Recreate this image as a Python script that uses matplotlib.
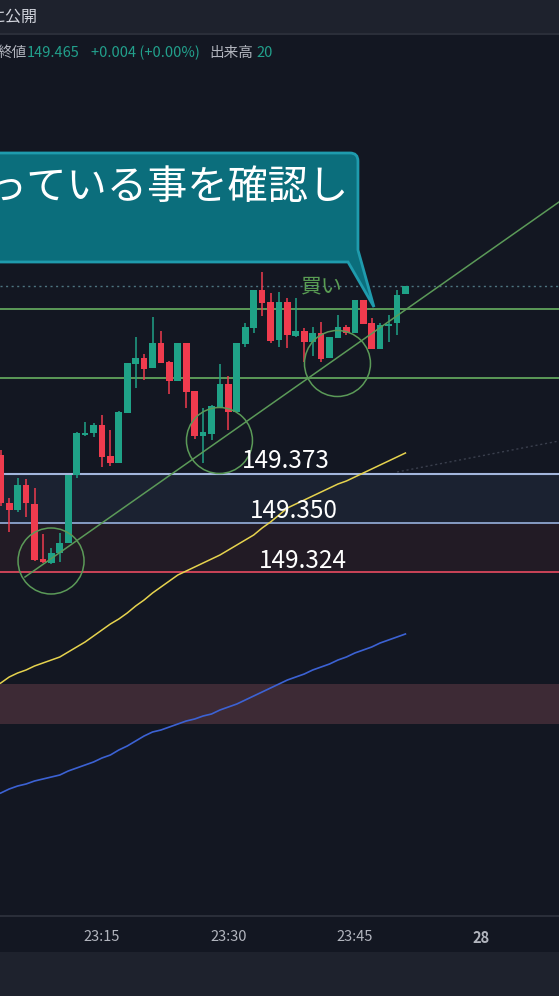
import matplotlib
matplotlib.use("Agg")
import matplotlib.pyplot as plt
from matplotlib.patches import Ellipse, PathPatch, Rectangle
from matplotlib.path import Path
import numpy as np

plt.rcParams['font.family'] = ['Noto Sans CJK JP', 'DejaVu Sans']

# ---------------- data ----------------
minutes = list(range(3, 52))  # minutes after 23:00
opens  = [149.3825,149.3585,149.355,149.3675,149.358,149.3305,149.3285,149.3335,149.3385,149.3725,
          149.3925,149.3935,149.3975,149.382,149.3785,149.4035,149.428,149.431,149.426,149.4385,
          149.429,149.4195,149.4385,149.4145,149.392,149.393,149.4065,149.418,149.404,149.438,
          149.446,149.465,149.459,149.440,149.459,149.442,149.4445,149.439,149.4435,149.431,
          149.441,149.4465,149.4435,149.460,149.4485,149.4355,149.447,149.4485,149.463]
highs  = [149.385,149.361,149.371,149.3705,149.366,149.343,149.336,149.3435,149.3725,149.394,
          149.399,149.3985,149.4025,149.395,149.4045,149.4285,149.4415,149.433,149.4515,149.4445,
          149.4295,149.4385,149.4385,149.4145,149.406,149.4075,149.428,149.422,149.4385,149.4485,
          149.465,149.474,149.4635,149.464,149.461,149.461,149.446,149.4465,149.449,149.4415,
          149.4525,149.4475,149.460,149.460,149.451,149.4485,149.4525,149.465,149.467]
lows   = [149.357,149.344,149.354,149.3515,149.3295,149.3285,149.328,149.329,149.3385,149.371,
          149.392,149.3915,149.3765,149.377,149.3785,149.4035,149.416,149.420,149.426,149.4285,
          149.413,149.4195,149.406,149.3905,149.3785,149.390,149.4065,149.395,149.404,149.4365,
          149.4435,149.452,149.4385,149.4365,149.436,149.4415,149.429,149.432,149.429,149.431,
          149.441,149.4425,149.4435,149.448,149.4355,149.4355,149.439,149.4425,149.463]
closes = [149.3585,149.355,149.3675,149.3585,149.330,149.329,149.3335,149.3385,149.3725,149.3935,
          149.3935,149.3975,149.3815,149.3785,149.404,149.4285,149.431,149.4255,149.4385,149.4285,
          149.4195,149.4385,149.414,149.392,149.394,149.407,149.418,149.404,149.4385,149.4465,
          149.465,149.4585,149.4395,149.459,149.4425,149.4445,149.439,149.4435,149.4305,149.4415,
          149.4465,149.4435,149.460,149.448,149.4355,149.4475,149.448,149.4625,149.467]

ma_minutes = list(range(2, 52))
ma_fast = [149.2665,149.2685,149.2715,149.2735,149.275,149.277,149.2785,149.280,149.2815,149.284,
           149.2865,149.289,149.292,149.295,149.298,149.3005,149.3035,149.307,149.310,149.3135,
           149.3165,149.3195,149.3225,149.3245,149.3265,149.3285,149.3305,149.3325,149.335,149.3375,
           149.340,149.3425,149.346,149.349,149.3525,149.356,149.358,149.360,149.362,149.364,
           149.366,149.368,149.3695,149.3715,149.3735,149.3755,149.3775,149.3795,149.3815,149.3835]
ma_slow = [149.212,149.2135,149.2155,149.217,149.218,149.2195,149.2205,149.2215,149.2225,149.2245,
           149.226,149.2275,149.229,149.231,149.2325,149.235,149.237,149.2395,149.242,149.244,
           149.245,149.2465,149.248,149.2495,149.2505,149.252,149.253,149.255,149.2565,149.258,
           149.260,149.262,149.264,149.266,149.268,149.270,149.2715,149.273,149.275,149.2765,
           149.278,149.280,149.2815,149.2835,149.285,149.2865,149.2885,149.290,149.2915,149.293]

tick_minutes = [15, 30, 45, 60]
tick_labels = ["23:15", "23:30", "23:45", "28"]

level_lines = [149.4555, 149.421]           # green horizontal lines
last_price = 149.467
zone_blue = (149.3485, 149.373)
zone_red = (149.324, 149.3485)
zone_low = (149.248, 149.268)
zone_labels = ["149.373", "149.350", "149.324"]
trend = ([5.87, 69.22], [149.3215, 149.509])
faint = ([50.0, 69.22], [149.374, 149.3895])
circle_centers = [(8.96, 149.3295), (28.94, 149.38975), (42.94, 149.42825)]

# ---------------- figure ----------------
W, H = 559, 996
fig = plt.figure(figsize=(W/100, H/100), dpi=100)
fig.patch.set_facecolor('#131722')

def fx(x): return x / W
def fy(y): return 1 - y / H

# header bar
fig.patches.append(Rectangle((0, fy(33)), 1, 33/H, transform=fig.transFigure,
                             facecolor='#1e222d', edgecolor='none', zorder=0))
fig.patches.append(Rectangle((0, fy(35)), 1, 2/H, transform=fig.transFigure,
                             facecolor='#2a2e39', edgecolor='none', zorder=0))
# bottom bar
fig.patches.append(Rectangle((0, 0), 1, 44/H, transform=fig.transFigure,
                             facecolor='#1e222d', edgecolor='none', zorder=0))

ax = fig.add_axes([0, (H-916)/H, 1, (916-35)/H])
ax.set_facecolor('#131722')
ax.set_xlim(2.906, 69.22)
ax.set_ylim(149.152, 149.5925)

# zones
ax.axhspan(*zone_blue, color='#1b2231', zorder=0.5, lw=0)
ax.axhspan(*zone_red, color='#221b25', zorder=0.5, lw=0)
ax.axhspan(*zone_low, color='#3d2a35', zorder=0.5, lw=0)
ax.axhline(zone_blue[1], color='#a3b6dc', lw=1.5, zorder=1)
ax.axhline(zone_blue[0], color='#8ea5cf', lw=1.3, zorder=1)
ax.axhline(zone_red[0], color='#d9475c', lw=1.3, zorder=1)

# level lines
for lv in level_lines:
    ax.axhline(lv, color='#5b9a58', lw=1.4, zorder=1)
ax.axhline(last_price, color='#4d7480', lw=1.0, ls=(0, (1.5, 2.5)), zorder=1)

# faint dotted
ax.plot(*faint, color='#3a3f4d', lw=1.0, ls=(0, (1.5, 2)), zorder=1)

# MAs
ax.plot(ma_minutes, ma_slow, color='#3c62d4', lw=1.2, zorder=2)
ax.plot(ma_minutes, ma_fast, color='#e6d34e', lw=1.1, zorder=2)

# candles
up_c, dn_c = '#1fa287', '#ef3b4e'
for m, o, h, l, c in zip(minutes, opens, highs, lows, closes):
    col = up_c if c >= o else dn_c
    ax.vlines(m, l, h, color=col, lw=1.1, zorder=3)
    ax.bar(m, max(abs(c - o), 0.0012), bottom=min(o, c), width=0.79,
           color=col, edgecolor='none', zorder=3)

# trend line
ax.plot(*trend, color='#5b9a58', lw=1.1, zorder=4)

# circles
for cx, cy in circle_centers:
    ax.add_patch(Ellipse((cx, cy), 7.83, 0.033, facecolor='none',
                         edgecolor='#5b9a58', lw=1.1, zorder=4))

# zone labels
lab_pos = [(36.8, 149.3795), (37.8, 149.3545), (38.85, 149.3295)]
for (lx, ly), t in zip(lab_pos, zone_labels):
    ax.text(lx, ly, t, color='white', fontsize=17.5, ha='center', va='center', zorder=5)

# buy text
ax.text(41.1, 149.4668, "買い", color='#5a9e54', fontsize=15, ha='center', va='center', zorder=5)

# callout
L, R, T, B = 0.0, 45.37, 149.5335, 149.479
dx, dy = 0.95, 0.004
verts = [(L, T), (R - dx, T), (R, T), (R, T - dy), (R, 149.485), (47.27, 149.4565),
         (44.19, B), (L, B), (L, T)]
codes = [Path.MOVETO, Path.LINETO, Path.CURVE3, Path.CURVE3, Path.LINETO, Path.LINETO,
         Path.LINETO, Path.LINETO, Path.CLOSEPOLY]
ax.add_patch(PathPatch(Path(verts, codes), facecolor='#0b6e7c', edgecolor='#1f9bad',
                       lw=2, zorder=6))
ax.text(44.3, 149.5105, "っている事を確認し", color='white', fontsize=29,
        ha='right', va='baseline', zorder=7)

# axes styling
for s in ['top', 'left', 'right']:
    ax.spines[s].set_visible(False)
ax.spines['bottom'].set_color('#2a2e39')
ax.spines['bottom'].set_linewidth(1.5)
ax.set_yticks([])
ax.set_xticks(tick_minutes)
ax.set_xticklabels(tick_labels)
ax.tick_params(axis='x', length=0, pad=10, colors='#b2b5be', labelsize=10.5)
ax.get_xticklabels()[-1].set_fontweight('bold')

# header texts
fig.text(fx(37), fy(17), "に公開", color='#d1d4dc', fontsize=11.5, ha='right', va='center')
hy = fy(53)
fs = 10.5
fig.text(fx(27), hy, "終値", color='#b2b5be', fontsize=fs, ha='right', va='center')
fig.text(fx(27), hy, "149.465", color='#22a08c', fontsize=fs, ha='left', va='center')
fig.text(fx(91), hy, "+0.004 (+0.00%)", color='#22a08c', fontsize=fs, ha='left', va='center')
fig.text(fx(209), hy, "出来高", color='#b2b5be', fontsize=fs, ha='left', va='center')
fig.text(fx(256), hy, "20", color='#22a08c', fontsize=fs, ha='left', va='center')

fig.savefig("out.png", dpi=100, facecolor=fig.get_facecolor())
